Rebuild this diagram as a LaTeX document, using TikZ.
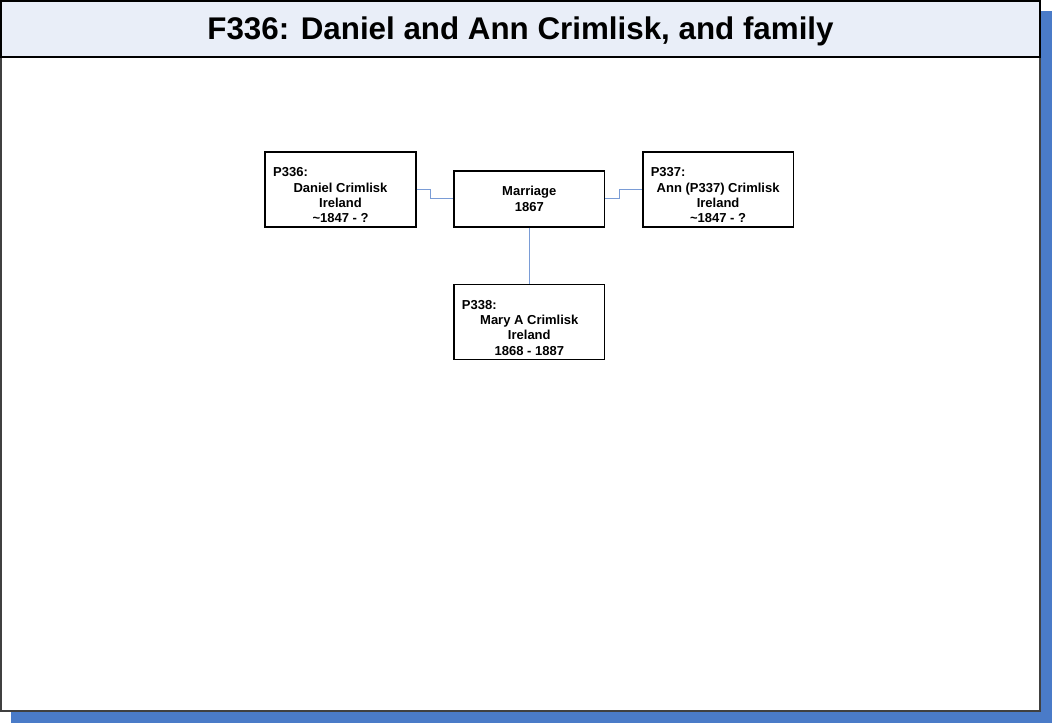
\documentclass[tikz,border=0pt]{standalone}
\usepackage{fontspec}
\setmainfont{Liberation Sans}
\usetikzlibrary{positioning}
\definecolor{shadowblue}{HTML}{4A7BC8}
\definecolor{titlefill}{HTML}{E9EEF8}
\definecolor{linkblue}{HTML}{7A9CD6}
\definecolor{framegray}{HTML}{404040}

\begin{document}
\begin{tikzpicture}[
    x=0.75pt,y=-0.75pt,
    node distance=0pt,
    fam/.style={
      draw,
      line width=1.1pt,
      minimum width=113pt,
      inner sep=0pt,
      align=center,
      font=\bfseries\fontsize{9.75}{11.6}\selectfont
    },
    person/.style={
      fam,
      minimum height=56.25pt
    },
    link/.style={draw=linkblue, line width=0.75pt}]

    % Helper macros.
    \def\lift{\rule{0pt}{15.5pt}}
    \def\who#1{\lift\makebox[101pt][l]{#1}}

    \useasboundingbox (0,0) rectangle (1052,723);

    % Draw the page with its shadow and title band.
    \fill[shadowblue] (11,11) rectangle (1052,723);
    \draw[framegray,fill=white,line width=1pt] (1,1) rectangle (1040,711);
    \draw[fill=titlefill,line width=1pt] (1,1) rectangle (1040,57);
    \node[font=\bfseries\fontsize{23.5}{28}\selectfont] (title) at (520.5,31)
      {F336: Daniel and Ann Crimlisk, and family};

    % Draw the parents and the marriage.
    \node[person] (p336) at (340.5,189.5)
      {\who{P336:}\\Daniel Crimlisk\\Ireland\\\textasciitilde1847 - ?};
    \node[fam,minimum height=42pt,above right=0pt and 27.5pt of p336.south east]
      (marr) {Marriage\\1867};
    \node[person,above right=0pt and 27.5pt of marr.south east] (p337)
      {\who{P337:}\\Ann (P337) Crimlisk\\Ireland\\\textasciitilde1847 - ?};

    % Draw the child.
    \node[person,below=42pt of marr.south] (p338)
      {\who{P338:}\\Mary A Crimlisk\\Ireland\\1868 - 1887};

    % Draw the family lines.
    \draw[link] (p336.east) -- ++(10.5pt,0) |- (marr.west);
    \draw[link] (marr.east) -- ++(10.5pt,0) |- (p337.west);
    \draw[link] (marr.south) -- (p338.north);

  \end{tikzpicture}
\end{document}
